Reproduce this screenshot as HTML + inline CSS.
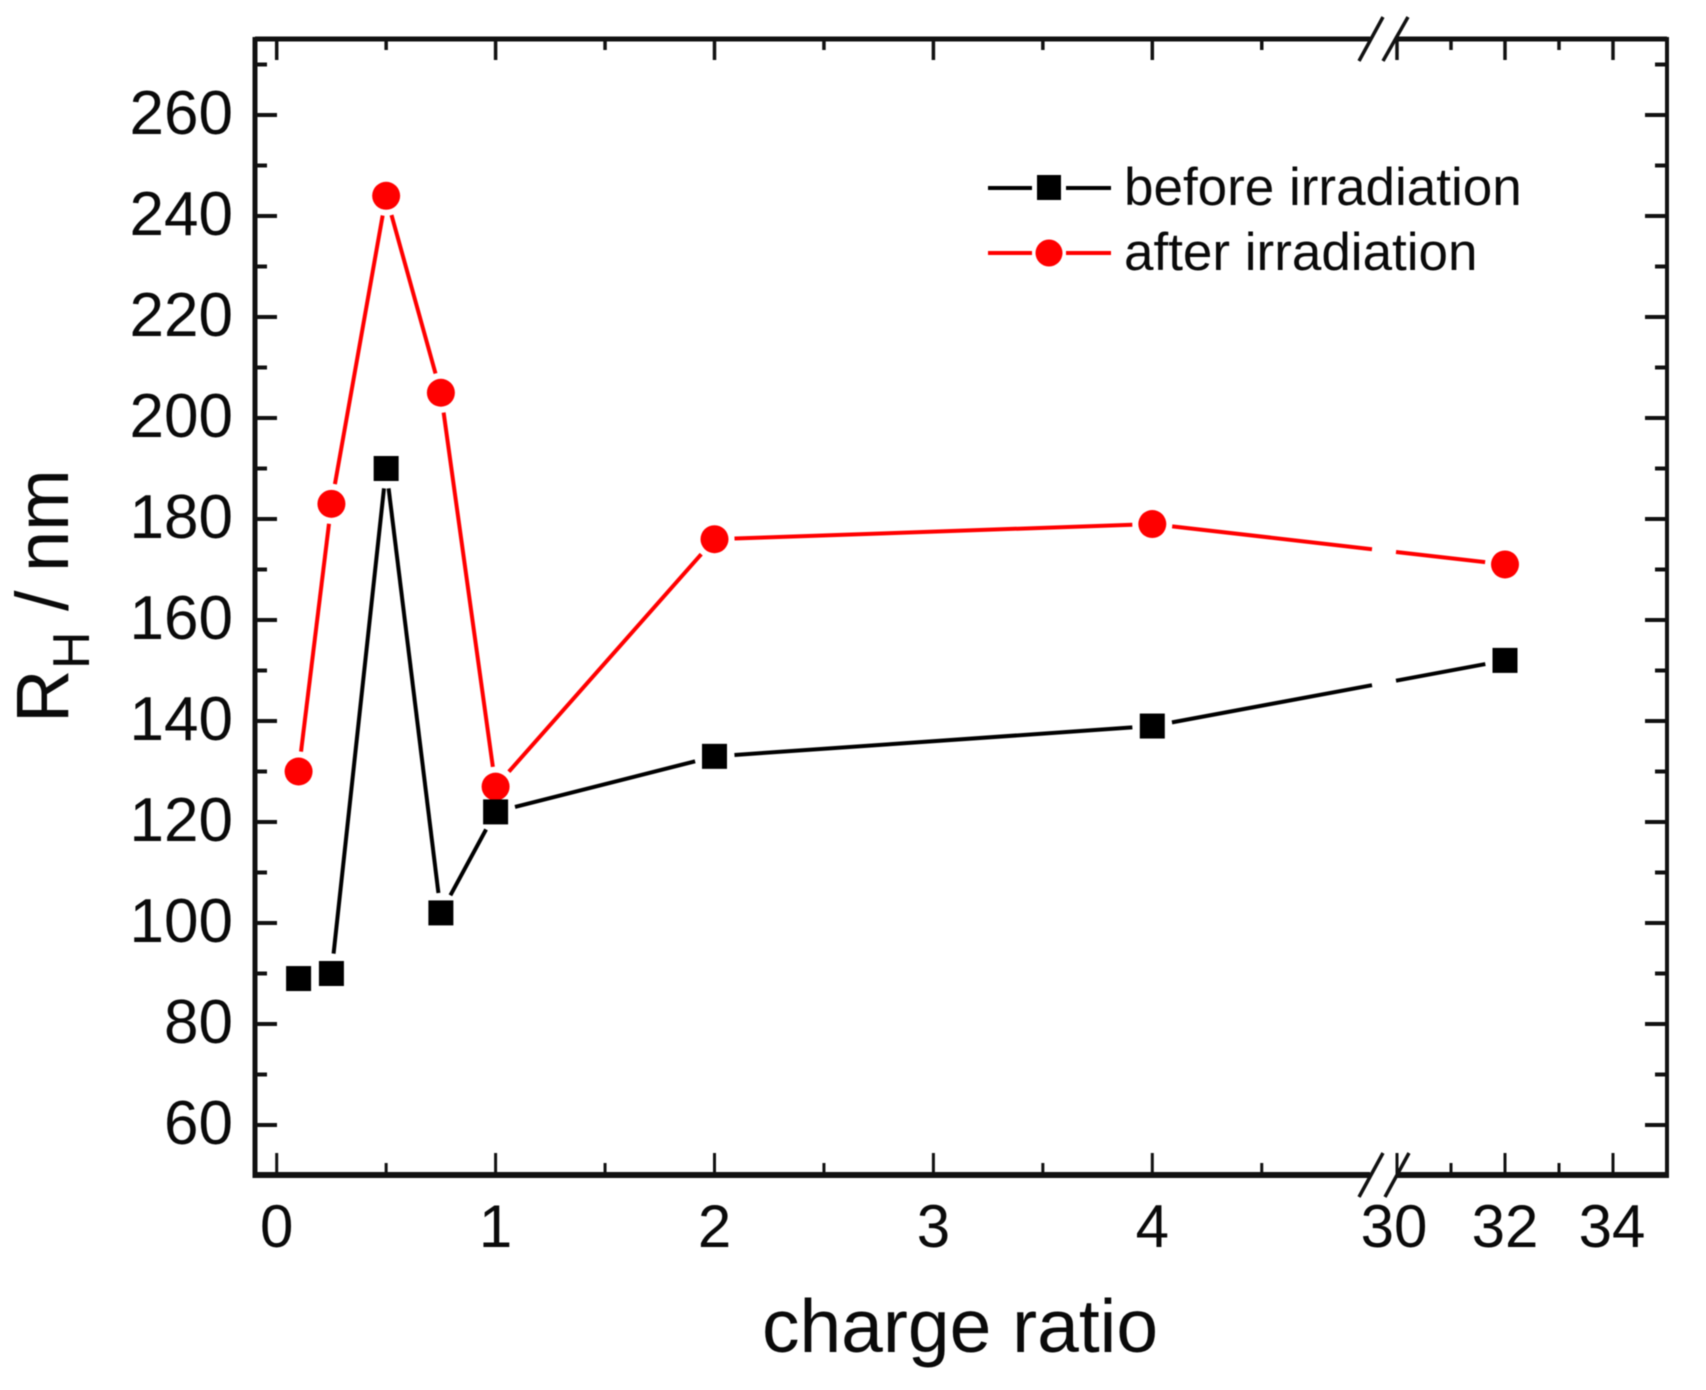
<!DOCTYPE html>
<html lang="en">
<head>
<meta charset="utf-8">
<title>Hydrodynamic radius vs charge ratio</title>
<style>
html,body{margin:0;padding:0;background:#fff;width:1706px;height:1390px;overflow:hidden}
svg{display:block;filter:blur(0.5px)}
text{font-family:"Liberation Sans",Arial,sans-serif;fill:#0a0a0a}
</style>
</head>
<body>
<svg id="chart" xmlns="http://www.w3.org/2000/svg" width="1706" height="1390" viewBox="0 0 1706 1390">
  <rect x="0" y="0" width="1706" height="1390" fill="#fff"/>
  <g id="axes"></g>
  <g id="series"></g>
  <text x="960" y="1352" font-size="75" text-anchor="middle">charge ratio</text>
  <text transform="rotate(-90)" font-size="74"><tspan x="-723" y="68">R</tspan><tspan x="-669" y="89" font-size="52">H</tspan><tspan x="-611" y="68">/</tspan><tspan x="-572" y="68">nm</tspan></text>
  <g id="legend">
    <g>
      <line x1="988" x2="1032" y1="188" y2="188" stroke="#000" stroke-width="4"/>
      <line x1="1066" x2="1111" y1="188" y2="188" stroke="#000" stroke-width="4"/>
      <rect x="1037" y="175" width="24" height="25" fill="#000"/>
      <text x="1124" y="205" font-size="53">before irradiation</text>
    </g>
    <g>
      <line x1="988" x2="1032" y1="253" y2="253" stroke="#f00" stroke-width="4"/>
      <line x1="1066" x2="1111" y1="253" y2="253" stroke="#f00" stroke-width="4"/>
      <circle cx="1049" cy="253" r="13.5" fill="#f00"/>
      <text x="1124" y="270" font-size="53">after irradiation</text>
    </g>
  </g>
</svg>
<script>
const chargeRatios = [0.1, 0.25, 0.5, 0.75, 1, 2, 4, 32];
const beforeValues = [89, 90, 190, 102, 122, 133, 139, 152];
const afterValues = [130, 183, 244, 205, 127, 176, 179, 171];
const yMajorTicks = [60, 80, 100, 120, 140, 160, 180, 200, 220, 240, 260];
const yMinorTicks = [70, 90, 110, 130, 150, 170, 190, 210, 230, 250, 270];
const xMajorTicks = [0, 1, 2, 3, 4, 30, 32, 34];
const xMinorTicks = [0.5, 1.5, 2.5, 3.5, 4.5, 31, 33];
const xLabelNudge = {30: -3, 34: -1};

const NS = 'http://www.w3.org/2000/svg';
const frame = {left: 255, right: 1667, top: 39, bottom: 1175};
const axisBreak = {a: 1370, b: 1397};
const lineBreak = {a: 1372, b: 1396};
const markerGap = 20;

function xScale(v) {
  return v <= 10 ? 276.7 + 218.9 * v : 1505 + 54 * (v - 32);
}
function yScale(v) {
  return 115 + (260 - v) * 5.05;
}
function mk(parent, tag, attrs) {
  const el = document.createElementNS(NS, tag);
  for (const k in attrs) el.setAttribute(k, attrs[k]);
  parent.appendChild(el);
  return el;
}

const axes = document.getElementById('axes');
const seriesGroup = document.getElementById('series');

/* frame pieces */
const framePieces = [
  ['frame-left', frame.left, frame.top - 2, frame.left, frame.bottom + 3, 5],
  ['frame-right', frame.right, frame.top - 2, frame.right, frame.bottom + 3, 4],
  ['frame-top-left', frame.left, frame.top, axisBreak.a, frame.top, 5],
  ['frame-top-right', axisBreak.b, frame.top, frame.right, frame.top, 5],
  ['frame-bottom-left', frame.left, frame.bottom, axisBreak.a, frame.bottom, 6],
  ['frame-bottom-right', axisBreak.b, frame.bottom, frame.right, frame.bottom, 6]
];
framePieces.forEach(function (p) {
  const el = mk(axes, 'line', {x1: p[1], y1: p[2], x2: p[3], y2: p[4], stroke: '#111', 'stroke-width': p[5]});
  
  
});

/* y ticks */
yMajorTicks.forEach(function (v) {
  const y = yScale(v);
  const l = mk(axes, 'line', {x1: frame.left, x2: frame.left + 22, y1: y, y2: y, stroke: '#111', 'stroke-width': 4});
  
  
  const r = mk(axes, 'line', {x1: frame.right, x2: frame.right - 22, y1: y, y2: y, stroke: '#111', 'stroke-width': 4});
  
  
  const t = mk(axes, 'text', {x: 233, y: y + 19, 'font-size': 62, 'text-anchor': 'end'});
  t.textContent = String(v);
  
  
});
yMinorTicks.forEach(function (v) {
  const y = yScale(v);
  const l = mk(axes, 'line', {x1: frame.left, x2: frame.left + 12, y1: y, y2: y, stroke: '#111', 'stroke-width': 4});
  
  
  const r = mk(axes, 'line', {x1: frame.right, x2: frame.right - 12, y1: y, y2: y, stroke: '#111', 'stroke-width': 4});
  
  
});

/* x ticks */
xMajorTicks.forEach(function (v) {
  const x = xScale(v);
  const b = mk(axes, 'line', {x1: x, x2: x, y1: frame.bottom, y2: frame.bottom - 22, stroke: '#111', 'stroke-width': 3});
  
  
  const u = mk(axes, 'line', {x1: x, x2: x, y1: frame.top, y2: frame.top + 21, stroke: '#111', 'stroke-width': 3.5});
  
  
  const t = mk(axes, 'text', {x: x + (xLabelNudge[v] || 0), y: 1247, 'font-size': 60, 'text-anchor': 'middle'});
  t.textContent = String(v);
  
  
});
xMinorTicks.forEach(function (v) {
  const x = xScale(v);
  const b = mk(axes, 'line', {x1: x, x2: x, y1: frame.bottom, y2: frame.bottom - 12, stroke: '#111', 'stroke-width': 3});
  
  
  const u = mk(axes, 'line', {x1: x, x2: x, y1: frame.top, y2: frame.top + 11, stroke: '#111', 'stroke-width': 3.5});
  
  
});

/* axis break marks */
[[1359, 1197, 1383, 1153], [1385, 1197, 1409, 1153], [1359, 61, 1383, 17], [1383, 61, 1408, 17]].forEach(function (s) {
  const el = mk(axes, 'line', {x1: s[0], y1: s[1], x2: s[2], y2: s[3], stroke: '#111', 'stroke-width': 3.5});
  
  
});

/* series line segments: trimmed near markers and split at the axis break */
function drawSegments(values, color, name) {
  for (let i = 0; i < values.length - 1; i++) {
    const x0 = xScale(chargeRatios[i]), y0 = yScale(values[i]);
    const x1 = xScale(chargeRatios[i + 1]), y1 = yScale(values[i + 1]);
    const d = Math.hypot(x1 - x0, y1 - y0);
    if (d <= markerGap * 2) continue;
    const ux = (x1 - x0) / d, uy = (y1 - y0) / d;
    const ax = x0 + ux * markerGap, ay = y0 + uy * markerGap;
    const bx = x1 - ux * markerGap, by = y1 - uy * markerGap;
    let parts = [[ax, ay, bx, by]];
    if (ax < lineBreak.a && bx > lineBreak.b) {
      const yAt = function (x) { return y0 + (x - x0) / (x1 - x0) * (y1 - y0); };
      parts = [[ax, ay, lineBreak.a, yAt(lineBreak.a)], [lineBreak.b, yAt(lineBreak.b), bx, by]];
    }
    parts.forEach(function (p) {
      const el = mk(seriesGroup, 'line', {x1: p[0], y1: p[1], x2: p[2], y2: p[3], stroke: color, 'stroke-width': 4});
      
      
    });
  }
}
drawSegments(afterValues, '#f00', 'after-irradiation-line');
drawSegments(beforeValues, '#000', 'before-irradiation-line');

afterValues.forEach(function (v, i) {
  const el = mk(seriesGroup, 'circle', {cx: xScale(chargeRatios[i]), cy: yScale(v), r: 14, fill: '#f00'});
  
  
});
beforeValues.forEach(function (v, i) {
  const el = mk(seriesGroup, 'rect', {x: xScale(chargeRatios[i]) - 12.5, y: yScale(v) - 12.5, width: 25, height: 25, fill: '#000'});
  
  
});
</script>
</body>
</html>
